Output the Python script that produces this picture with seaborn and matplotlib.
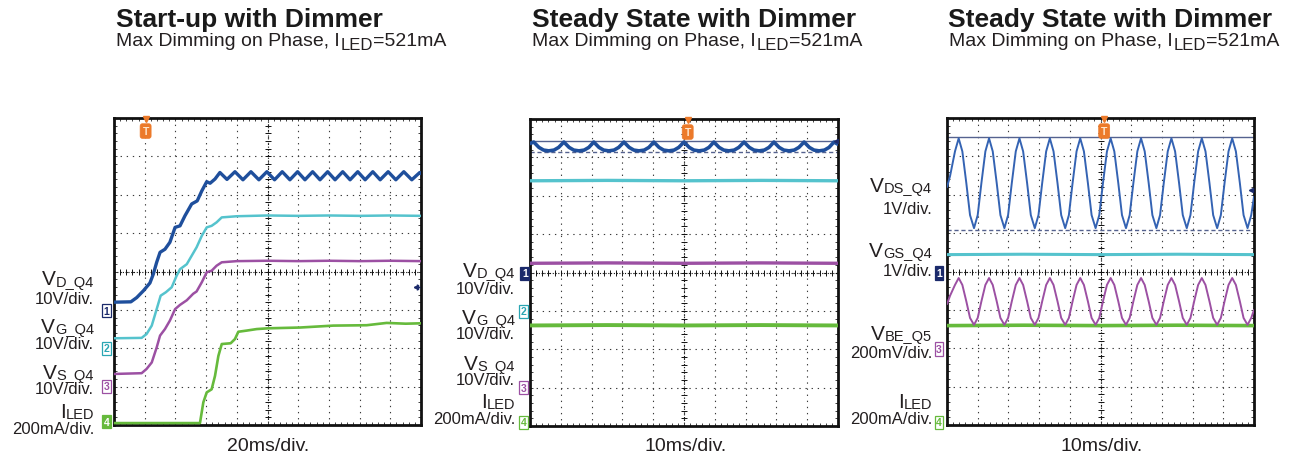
import matplotlib
matplotlib.use("Agg")
import matplotlib.pyplot as plt
import seaborn as sns
import numpy as np
from matplotlib.ticker import MultipleLocator

# ---------------- data (screen divisions: x 0..10, y 0..8) ----------------
titles = ["Start-up with Dimmer", "Steady State with Dimmer", "Steady State with Dimmer"]
subtitle_main = "Max Dimming on Phase, I"
subtitle_sub = "LED"
subtitle_tail = "=521mA"
time_scales = ["20ms/div.", "10ms/div.", "10ms/div."]

p1_labels = [("V", "D_Q4", "10V/div."), ("V", "G_Q4", "10V/div."),
             ("V", "S_Q4", "10V/div."), ("I", "LED", "200mA/div.")]
p2_labels = p1_labels
p3_labels = [("V", "DS_Q4", "1V/div."), ("V", "GS_Q4", "1V/div."),
             ("V", "BE_Q5", "200mV/div."), ("I", "LED", "200mA/div.")]

# Panel 1 : start-up, 20ms/div
p1_vd_x = [0.0, 0.55, 0.74, 0.96, 1.17, 1.28, 1.39, 1.50, 1.66, 1.82, 1.99, 2.15, 2.31,
           2.53, 2.71, 2.86, 3.02, 3.13, 3.29, 3.45, 3.68, 3.94, 4.20, 4.46, 4.72, 4.98,
           5.23, 5.48, 5.73, 5.98, 6.22, 6.47, 6.71, 6.96, 7.20, 7.45, 7.69, 7.94, 8.18,
           8.43, 8.67, 8.93, 9.18, 9.44, 9.70, 9.96, 10.0]
p1_vd_y = [3.20, 3.21, 3.32, 3.50, 3.70, 3.93, 4.24, 4.50, 4.58, 4.76, 5.15, 5.19, 5.45,
           5.76, 5.84, 6.10, 6.34, 6.30, 6.41, 6.58, 6.40, 6.60, 6.39, 6.60, 6.39, 6.60,
           6.39, 6.60, 6.39, 6.60, 6.39, 6.60, 6.39, 6.60, 6.39, 6.60, 6.39, 6.60, 6.39,
           6.60, 6.39, 6.60, 6.39, 6.60, 6.39, 6.58, 6.55]
p1_vg_x = [0.0, 0.90, 1.06, 1.23, 1.39, 1.52, 1.69, 1.88, 2.04, 2.15, 2.37, 2.53, 2.69,
           2.86, 3.02, 3.18, 3.34, 3.51, 4.0, 5.0, 6.0, 7.0, 8.0, 9.0, 10.0]
p1_vg_y = [2.26, 2.27, 2.37, 2.59, 3.02, 3.37, 3.46, 3.59, 3.89, 4.06, 4.19, 4.41, 4.63,
           4.93, 5.15, 5.19, 5.28, 5.41, 5.44, 5.46, 5.45, 5.46, 5.45, 5.46, 5.45]
p1_vs_x = [0.0, 0.90, 1.06, 1.23, 1.39, 1.50, 1.66, 1.82, 1.99, 2.15, 2.37, 2.58, 2.69,
           2.86, 3.02, 3.18, 3.34, 3.51, 4.0, 5.0, 6.0, 7.0, 8.0, 9.0, 10.0]
p1_vs_y = [1.33, 1.35, 1.46, 1.63, 2.02, 2.33, 2.50, 2.72, 3.02, 3.13, 3.25, 3.42, 3.48,
           3.72, 3.98, 4.02, 4.15, 4.24, 4.27, 4.28, 4.27, 4.28, 4.27, 4.28, 4.27]
p1_il_x = [0.0, 2.80, 2.91, 3.02, 3.18, 3.29, 3.40, 3.51, 3.80, 3.94, 4.05, 4.32, 4.65,
           5.03, 6.06, 7.14, 8.23, 8.88, 9.50, 10.0]
p1_il_y = [0.05, 0.05, 0.59, 0.85, 0.93, 1.28, 1.80, 2.11, 2.13, 2.24, 2.43, 2.46, 2.50,
           2.52, 2.54, 2.59, 2.60, 2.66, 2.64, 2.65]

# Panel 2 : steady state, 10ms/div
p2_vd_x = [0.00,
           0.12, 0.29, 0.44, 0.61, 0.78, 0.93,
           1.10, 1.27, 1.42, 1.59, 1.76, 1.91,
           2.07, 2.24, 2.39, 2.56, 2.73, 2.88,
           3.05, 3.22, 3.37, 3.54, 3.71, 3.86,
           4.02, 4.19, 4.34, 4.51, 4.68, 4.83,
           5.00, 5.17, 5.32, 5.49, 5.66, 5.81,
           5.97, 6.14, 6.29, 6.46, 6.63, 6.78,
           6.95, 7.12, 7.27, 7.44, 7.61, 7.76,
           7.92, 8.09, 8.24, 8.41, 8.58, 8.73,
           8.90, 9.07, 9.22, 9.39, 9.56, 9.71,
           9.87, 10.0]
p2_vd_y = [7.36,
           7.40, 7.26, 7.19, 7.17, 7.19, 7.26,
           7.40, 7.26, 7.19, 7.17, 7.19, 7.26,
           7.40, 7.26, 7.19, 7.17, 7.19, 7.26,
           7.40, 7.26, 7.19, 7.17, 7.19, 7.26,
           7.40, 7.26, 7.19, 7.17, 7.19, 7.26,
           7.40, 7.26, 7.19, 7.17, 7.19, 7.26,
           7.40, 7.26, 7.19, 7.17, 7.19, 7.26,
           7.40, 7.26, 7.19, 7.17, 7.19, 7.26,
           7.40, 7.26, 7.19, 7.17, 7.19, 7.26,
           7.40, 7.26, 7.19, 7.17, 7.19, 7.26,
           7.40, 7.34]
p2_flat_x = [0.0, 2.5, 5.0, 7.5, 10.0]
p2_vg_y = [6.39, 6.40, 6.39, 6.40, 6.39]
p2_vs_y = [4.24, 4.25, 4.24, 4.25, 4.24]
p2_il_y = [2.62, 2.63, 2.62, 2.63, 2.62]
p2_cursor_solid = 7.43
p2_cursor_dash = 7.14

# Panel 3 : steady state zoom, 10ms/div
p3_vds_x = [0.00, 0.10, 0.26,
            0.38, 0.50, 0.63, 0.75, 0.88, 1.00, 1.12, 1.25,
            1.37, 1.49, 1.62, 1.74, 1.87, 1.99, 2.11, 2.24,
            2.36, 2.48, 2.61, 2.73, 2.86, 2.98, 3.10, 3.23,
            3.35, 3.47, 3.60, 3.72, 3.85, 3.97, 4.09, 4.22,
            4.34, 4.46, 4.59, 4.71, 4.84, 4.96, 5.08, 5.21,
            5.33, 5.45, 5.58, 5.70, 5.83, 5.95, 6.07, 6.20,
            6.32, 6.44, 6.57, 6.69, 6.82, 6.94, 7.06, 7.19,
            7.31, 7.43, 7.56, 7.68, 7.81, 7.93, 8.05, 8.18,
            8.30, 8.42, 8.55, 8.67, 8.80, 8.92, 9.04, 9.17,
            9.29, 9.41, 9.54, 9.66, 9.79, 9.91, 10.0]
p3_vds_y = [6.20, 6.49, 7.13,
            7.47, 7.13, 6.30, 5.47, 5.13, 5.47, 6.30, 7.13,
            7.47, 7.13, 6.30, 5.47, 5.13, 5.47, 6.30, 7.13,
            7.47, 7.13, 6.30, 5.47, 5.13, 5.47, 6.30, 7.13,
            7.47, 7.13, 6.30, 5.47, 5.13, 5.47, 6.30, 7.13,
            7.47, 7.13, 6.30, 5.47, 5.13, 5.47, 6.30, 7.13,
            7.47, 7.13, 6.30, 5.47, 5.13, 5.47, 6.30, 7.13,
            7.47, 7.13, 6.30, 5.47, 5.13, 5.47, 6.30, 7.13,
            7.47, 7.13, 6.30, 5.47, 5.13, 5.47, 6.30, 7.13,
            7.47, 7.13, 6.30, 5.47, 5.13, 5.47, 6.30, 7.13,
            7.47, 7.13, 6.30, 5.47, 5.13, 5.47, 5.95]
p3_vbe_y = [3.15, 3.37, 3.65,
            3.83, 3.65, 3.22, 2.79, 2.61, 2.79, 3.22, 3.65,
            3.83, 3.65, 3.22, 2.79, 2.61, 2.79, 3.22, 3.65,
            3.83, 3.65, 3.22, 2.79, 2.61, 2.79, 3.22, 3.65,
            3.83, 3.65, 3.22, 2.79, 2.61, 2.79, 3.22, 3.65,
            3.83, 3.65, 3.22, 2.79, 2.61, 2.79, 3.22, 3.65,
            3.83, 3.65, 3.22, 2.79, 2.61, 2.79, 3.22, 3.65,
            3.83, 3.65, 3.22, 2.79, 2.61, 2.79, 3.22, 3.65,
            3.83, 3.65, 3.22, 2.79, 2.61, 2.79, 3.22, 3.65,
            3.83, 3.65, 3.22, 2.79, 2.61, 2.79, 3.22, 3.65,
            3.83, 3.65, 3.22, 2.79, 2.61, 2.79, 3.00]
p3_flat_x = [0.0, 2.5, 5.0, 7.5, 10.0]
p3_vgs_y = [4.44, 4.45, 4.44, 4.45, 4.44]
p3_il_y = [2.59, 2.60, 2.59, 2.60, 2.59]
p3_cursor_solid = 7.51
p3_cursor_dash = 5.08

# ---------------- style ----------------
BLUE = "#1f4f9c"
BLUE2 = "#3463b3"
CYAN = "#55c3cd"
MAG = "#9c50a3"
GREEN = "#66ba3c"
NAVY = "#1b2a6b"
ORANGE = "#ec7a2a"
TXT = "#231f20"
CURSOR = "#55628f"

sns.set_style("white")
plt.rcParams["font.family"] = ["Liberation Sans", "DejaVu Sans"]

W, H = 1290, 460
fig = plt.figure(figsize=(W / 100, H / 100), dpi=100)


def fx(px):
    return px / W


def fy(py):
    return 1 - py / H


def make_axes(left, top, right, bottom):
    ax = fig.add_axes([fx(left), fy(bottom), (right - left) / W, (bottom - top) / H])
    ax.set_xlim(0, 10)
    ax.set_ylim(0, 8)
    ax.xaxis.set_major_locator(MultipleLocator(1))
    ax.yaxis.set_major_locator(MultipleLocator(1))
    ax.xaxis.set_minor_locator(MultipleLocator(0.2))
    ax.yaxis.set_minor_locator(MultipleLocator(0.2))
    ax.tick_params(which="both", direction="in", length=2.5, width=0.6, color="#222222",
                   top=True, right=True, bottom=True, left=True,
                   labelbottom=False, labelleft=False)
    ax.grid(True, which="major", color="#3a3a3a", linestyle=(0, (1.2, 4.3)), linewidth=0.8)
    for s in ax.spines.values():
        s.set_linewidth(2.0)
        s.set_color("#111111")
    # centre graticule with fine ticks
    ax.axhline(4, color="#111111", lw=0.8, ls=(0, (1, 1.5)), zorder=1)
    ax.axvline(5, color="#111111", lw=0.8, ls=(0, (1, 1.5)), zorder=1)
    tx = np.arange(0, 10.001, 0.2)
    ty = np.arange(0, 8.001, 0.2)
    ax.plot(tx, np.full_like(tx, 4.0), ls="none", marker="|", ms=4, mew=0.7, color="#111111", zorder=1)
    ax.plot(np.full_like(ty, 5.0), ty, ls="none", marker="_", ms=4, mew=0.7, color="#111111", zorder=1)
    ax.set_xlabel("")
    ax.set_ylabel("")
    return ax


def trace(ax, x, y, color, lw):
    sns.lineplot(x=x, y=y, ax=ax, color=color, linewidth=lw, estimator=None, sort=False, zorder=3)


def chan_box(ax, x, y, label, color, filled=False):
    ax.text(x, y, label, fontsize=7.5, ha="center", va="center",
            color="white" if filled else color, fontweight="bold",
            bbox=dict(boxstyle="square,pad=0.15", fc=color if filled else "white", ec=color, lw=0.9),
            clip_on=False, zorder=6)


def trig(ax, x):
    ax.text(x, 7.66, "T", fontsize=7.5, ha="center", va="center", color="#ffe6cc", fontweight="bold",
            bbox=dict(boxstyle="round,pad=0.22", fc=ORANGE, ec=ORANGE, lw=0.5), zorder=6, clip_on=False)
    ax.plot([x], [7.97], marker="v", ms=4, color=ORANGE, ls="none", zorder=6, clip_on=False)


def side_mark(ax, x, y):
    ax.plot([x], [y], marker="<", ms=3, color=NAVY, ls="none", zorder=6)
    ax.plot([x + 0.04], [y], marker="+", ms=5, mew=1.0, color=NAVY, ls="none", zorder=6)


def sub_label(ax, right_px, base_px, main, sub, size=15):
    s = fig.text(fx(right_px), fy(base_px), sub, ha="right", va="baseline",
                 fontsize=size * 0.7, color=TXT)
    ax.annotate(main, xy=(0, 0), xycoords=s, xytext=(0, 3.1), textcoords="offset points",
                ha="right", va="baseline", fontsize=size, color=TXT)


def labels(ax, right_px, rows, items):
    for (main, sub, scale), (b1, b2) in zip(items, rows):
        sub_label(ax, right_px, b1, main, sub)
        fig.text(fx(right_px), fy(b2), scale, ha="right", va="baseline", fontsize=12, color=TXT)


def header(ax, left_px, title, center_px, tscale):
    fig.text(fx(left_px + 1.5), fy(27), title, fontsize=19, fontweight="bold", va="baseline",
             ha="left", color="#1a1a1a")
    t1 = fig.text(fx(left_px + 2), fy(46.5), subtitle_main, fontsize=14, va="baseline",
                  ha="left", color=TXT)
    t2 = ax.annotate(subtitle_sub, xy=(1, 0), xycoords=t1, xytext=(0.3, 0.6),
                     textcoords="offset points", va="baseline", ha="left", fontsize=12, color=TXT)
    ax.annotate(subtitle_tail, xy=(1, 0), xycoords=(t2, t1), xytext=(0.3, 0),
                textcoords="offset points", va="bottom", ha="left", fontsize=14, color=TXT)
    fig.text(fx(center_px), fy(451), tscale, fontsize=14, ha="center", va="baseline", color=TXT)


# ---------------- panel 1 ----------------
ax1 = make_axes(114, 119, 421, 426)
trace(ax1, p1_il_x, p1_il_y, GREEN, 1.9)
trace(ax1, p1_vs_x, p1_vs_y, MAG, 1.8)
trace(ax1, p1_vg_x, p1_vg_y, CYAN, 1.8)
trace(ax1, p1_vd_x, p1_vd_y, BLUE, 2.4)
chan_box(ax1, -0.24, 2.98, "1", NAVY)
chan_box(ax1, -0.24, 2.00, "2", "#2aa6b3")
chan_box(ax1, -0.24, 1.01, "3", MAG)
chan_box(ax1, -0.24, 0.09, "4", GREEN, filled=True)
trig(ax1, 1.03)
side_mark(ax1, 9.84, 3.59)
labels(ax1, 94, [(286.5, 303.5), (334, 349), (380, 394.5), (419.5, 434)], p1_labels)
header(ax1, 114, titles[0], 268, time_scales[0])

# ---------------- panel 2 ----------------
ax2 = make_axes(530, 120, 838, 427)
ax2.axhline(p2_cursor_solid, color=CURSOR, lw=1.0, zorder=2)
ax2.axhline(p2_cursor_dash, color=CURSOR, lw=1.0, ls=(0, (3, 2)), zorder=2)
trace(ax2, p2_flat_x, p2_il_y, GREEN, 2.8)
trace(ax2, p2_flat_x, p2_vs_y, MAG, 2.4)
trace(ax2, p2_flat_x, p2_vg_y, CYAN, 2.4)
trace(ax2, p2_vd_x, p2_vd_y, BLUE, 2.6)
chan_box(ax2, -0.17, 3.98, "1", NAVY, filled=True)
chan_box(ax2, -0.20, 2.99, "2", "#2aa6b3")
chan_box(ax2, -0.20, 1.00, "3", MAG)
chan_box(ax2, -0.20, 0.10, "4", GREEN)
trig(ax2, 5.12)
ax2.plot([9.95], [7.42], marker="<", ms=3, color=NAVY, ls="none", zorder=6)
labels(ax2, 515, [(278, 294.5), (325.5, 339.5), (371.5, 385), (409.5, 424)], p2_labels)
header(ax2, 530, titles[1], 686, time_scales[1])

# ---------------- panel 3 ----------------
ax3 = make_axes(947, 119, 1254, 426)
ax3.axhline(p3_cursor_solid, color=CURSOR, lw=1.0, zorder=2)
ax3.axhline(p3_cursor_dash, color=CURSOR, lw=1.0, ls=(0, (3, 2)), zorder=2)
trace(ax3, p3_flat_x, p3_il_y, GREEN, 2.6)
trace(ax3, p3_flat_x, p3_vgs_y, CYAN, 2.2)
trace(ax3, p3_vds_x, p3_vbe_y, MAG, 1.4)
trace(ax3, p3_vds_x, p3_vds_y, BLUE2, 1.4)
chan_box(ax3, -0.26, 3.96, "1", NAVY, filled=True)
chan_box(ax3, -0.26, 1.98, "3", MAG)
chan_box(ax3, -0.26, 0.07, "4", GREEN)
trig(ax3, 5.12)
ax3.plot([9.90], [6.12], marker="<", ms=3, color=NAVY, ls="none", zorder=6)
labels(ax3, 932, [(193, 213.5), (258, 276), (341.5, 358.5), (409.5, 424)], p3_labels)
header(ax3, 947, titles[2], 1102, time_scales[2])

fig.savefig("out.png", dpi=100)
